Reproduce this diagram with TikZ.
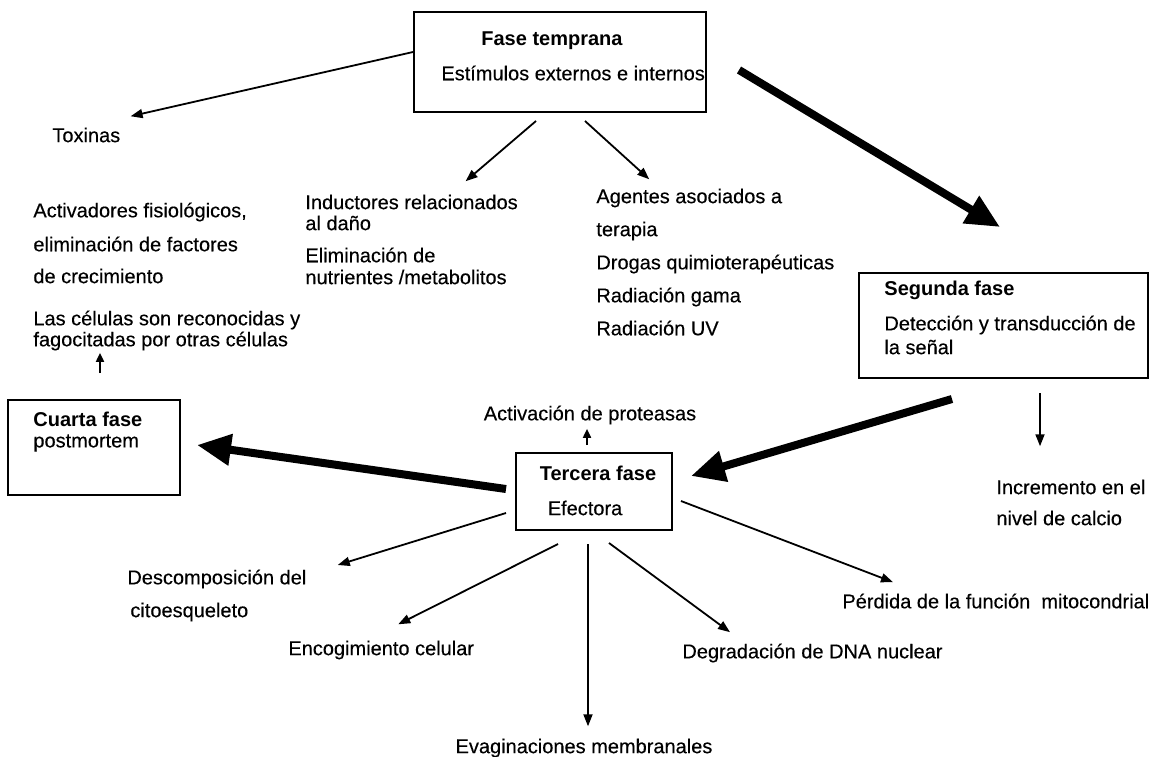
\documentclass[tikz,border=0pt]{standalone}
\usepackage{fontspec}
\setmainfont{Liberation Sans}[UprightFeatures={FakeBold=0.3}]
\usetikzlibrary{arrows.meta,calc,positioning}
\tikzset{
  phasebox/.style={draw, line width=1pt, inner sep=0pt},
  txt/.style={anchor=west, inner sep=0pt, font=\fontsize{10}{12}\selectfont},
  head/.style={txt, font=\fontsize{10}{12}\selectfont\bfseries},
  thinarrow/.style={line width=0.9pt, -{Triangle[length=6pt,width=4.5pt]}},
  shortarrow/.style={line width=0.9pt, -{Triangle[length=4.5pt,width=4pt]}},
  thickarrow/.style={line width=4pt, -{Triangle[length=17pt,width=15pt]}},
}

\begin{document}
\begin{tikzpicture}[x=0.5pt,y=-0.5pt]
	\useasboundingbox (0,0) rectangle (1161,756);
	% cajas de las fases
	\node[phasebox, minimum width=146pt, minimum height=50pt] (temprana) at (560,62) {};
	\node[phasebox, minimum width=144.5pt, minimum height=52.5pt] (segunda) at (1003.5,325.5) {};
	\node[phasebox, minimum width=78pt, minimum height=38.5pt] (tercera) at (594,491.5) {};
	\node[phasebox, minimum width=86pt, minimum height=47.5pt] (cuarta) at (94,447.5) {};
	% textos de las cajas
	\node[head] (tem1) at (481,41) {Fase temprana};
	\node[txt] (tem2) at (441,73) {Estímulos externos e internos};
	\node[head] (seg1) at (884,290) {Segunda fase};
	\node[txt] (seg2) at (884,325) {Detección y transducción de};
	\node[txt] (seg3) at (884,347) {la señal};
	\node[head, anchor=center] (ter1) at (598,473) {Tercera fase};
	\node[txt, anchor=center] (ter2) at (585,508) {Efectora};
	\node[head] (cua1) at (33,419) {Cuarta fase};
	\node[txt] (cua2) at (33,443) {postmortem};
	% estimulos
	\node[txt] (tox) at (52,135) {Toxinas};
	\node[txt] (act1) at (33,212) {Activadores fisiológicos,};
	\node[txt] (act2) at (33,244) {eliminación de factores};
	\node[txt] (act3) at (33,276) {de crecimiento};
	\node[txt] (ind1) at (305,202) {Inductores relacionados};
	\node[txt] (ind2) at (305,223) {al daño};
	\node[txt] (ind3) at (305,255) {Eliminación de};
	\node[txt] (ind4) at (305,277) {nutrientes /metabolitos};
	\node[txt] (age1) at (596,198) {Agentes asociados a};
	\node[txt] (age2) at (596,231) {terapia};
	\node[txt] (age3) at (596,264) {Drogas quimioterapéuticas};
	\node[txt] (age4) at (596,297) {Radiación gama};
	\node[txt] (age5) at (596,328) {Radiación UV};
	% efectos
	\node[txt] (fag1) at (33,320) {Las células son reconocidas y};
	\node[txt] (fag2) at (33,341) {fagocitadas por otras células};
	\node[txt, anchor=center] (prot) at (590,415) {Activación de proteasas};
	\node[txt] (cal1) at (996,487) {Incremento en el};
	\node[txt] (cal2) at (996,518) {nivel de calcio};
	\node[txt] (desc1) at (127,579) {Descomposición del};
	\node[txt] (desc2) at (130,612) {citoesqueleto};
	\node[txt] (enc) at (288,650) {Encogimiento celular};
	\node[txt, anchor=center] (evag) at (584,748) {Evaginaciones membranales};
	\node[txt] (dna) at (682,653) {Degradación de DNA nuclear};
	\node[txt] (mito) at (842,601) {Pérdida de la función\ \ mitocondrial};
	% flechas gruesas
	\draw[thickarrow] ($(temprana.east)+(32,8)$) -- ($(segunda.north)+(-3.5,-45)$);
	\draw[thickarrow] ($(segunda.south)+(-51.5,20)$) -- ($(tercera.east)+(18,-15.5)$);
	\draw[thickarrow] ($(tercera.west)+(-9,-2.5)$) -- ($(cuarta.east)+(16,-2.5)$);
	% flechas finas
	\draw[thinarrow] ($(temprana.west)+(0,-10)$) -- ($(tox.north east)+(10,-11)$);
	\draw[thinarrow] ($(temprana.south)+(-24,8)$) -- ($(ind1.north)+(54,-13)$);
	\draw[thinarrow] ($(temprana.south)+(25,8)$) -- ($(age1.north)+(-40,-9)$);
	\draw[shortarrow] ($(cuarta.north)+(6,-26)$) -- ($(fag2.south west)+(67,2)$);
	\draw[thinarrow] ($(segunda.south)+(36.5,14)$) -- ($(cal1.north west)+(44,-33)$);
	\draw[shortarrow] ($(tercera.north)+(-7,-7)$) -- ($(prot.south)+(-3,4)$);
	\draw[thinarrow] ($(tercera.west)+(-9,21.5)$) -- ($(desc1.east)+(31,-14)$);
	\draw[thinarrow] ($(tercera.south)+(-36,13)$) -- ($(enc.north)+(17,-16)$);
	\draw[thinarrow] ($(tercera.south)+(-6,13)$) -- ($(evag.north)+(4,-12)$);
	\draw[thinarrow] ($(tercera.south)+(15,12)$) -- ($(dna.north west)+(48,-11)$);
	\draw[thinarrow] ($(tercera.east)+(8,9.5)$) -- ($(mito.north west)+(51,-11)$);
\end{tikzpicture}
\end{document}
